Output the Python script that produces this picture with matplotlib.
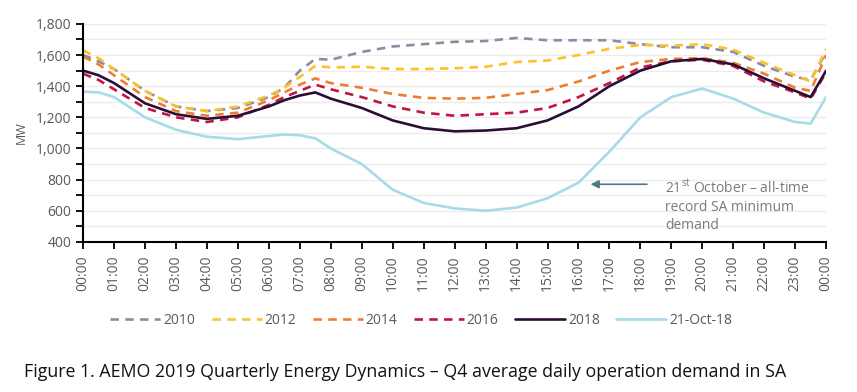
import numpy as np
import matplotlib.pyplot as plt
from matplotlib.ticker import MultipleLocator, FuncFormatter

plt.rcParams['font.family'] = ['Open Sans', 'DejaVu Sans']
plt.rcParams['mathtext.fontset'] = 'custom'
plt.rcParams['mathtext.rm'] = 'Open Sans'

# hours after midnight of each reading
hours = [0, 0.5, 1, 2, 3, 4, 5, 6, 6.5, 7, 7.5, 8, 9, 10, 11, 12,
         13, 14, 15, 16, 17, 18, 19, 20, 21, 22, 23, 23.5, 24]

d2010 = [1600, 1560, 1510, 1370, 1270, 1240, 1260, 1330, 1390, 1500, 1575, 1570,
         1620, 1655, 1670, 1685, 1690, 1710, 1695, 1695, 1695, 1670, 1650, 1650,
         1620, 1530, 1460, 1440, 1620]
d2012 = [1630, 1580, 1510, 1370, 1270, 1240, 1270, 1340, 1390, 1460, 1530, 1520,
         1525, 1510, 1510, 1515, 1525, 1555, 1565, 1600, 1640, 1665, 1660, 1670,
         1635, 1550, 1470, 1430, 1640]
d2014 = [1590, 1540, 1470, 1330, 1240, 1210, 1230, 1310, 1360, 1410, 1450, 1420,
         1390, 1350, 1325, 1320, 1325, 1350, 1375, 1430, 1500, 1555, 1575, 1580,
         1550, 1480, 1390, 1370, 1600]
d2016 = [1480, 1440, 1380, 1260, 1200, 1170, 1200, 1280, 1330, 1370, 1410, 1380,
         1330, 1270, 1230, 1210, 1220, 1230, 1260, 1330, 1420, 1520, 1560, 1570,
         1530, 1430, 1360, 1320, 1490]
d2018 = [1500, 1470, 1420, 1290, 1220, 1190, 1210, 1270, 1310, 1340, 1360, 1320,
         1260, 1180, 1130, 1110, 1115, 1130, 1180, 1270, 1400, 1500, 1560, 1575,
         1540, 1450, 1370, 1330, 1500]
d21oct = [1365, 1360, 1330, 1200, 1120, 1075, 1060, 1080, 1090, 1085, 1065, 1000,
          900, 735, 650, 615, 600, 620, 680, 780, 980, 1200, 1330, 1385,
          1320, 1230, 1170, 1160, 1330]

labels = ['2010', '2012', '2014', '2016', '2018', '21-Oct-18']
colors = ['#8d8ba3', '#f9c32b', '#ee7d32', '#c3143f', '#2a0e38', '#a7dbe7']
series = [d2010, d2012, d2014, d2016, d2018, d21oct]

fig = plt.figure(figsize=(8.57, 3.92), dpi=100)
ax = fig.add_axes([0.097, 0.383, 0.867, 0.556])

for lab, col, vals in zip(labels, colors, series):
    if lab in ('2018', '21-Oct-18'):
        ax.plot(hours, vals, color=col, lw=1.9, label=lab, solid_capstyle='round')
    else:
        ax.plot(hours, vals, color=col, lw=1.9, label=lab, dashes=(3.2, 2.4))

ax.set_xlim(0, 24)
ax.set_ylim(400, 1800)
ax.xaxis.set_major_locator(MultipleLocator(1))
ax.xaxis.set_major_formatter(FuncFormatter(lambda v, p: '%02d:00' % (int(round(v)) % 24)))
ax.yaxis.set_major_locator(MultipleLocator(200))
ax.yaxis.set_minor_locator(MultipleLocator(100))
ax.yaxis.set_major_formatter(FuncFormatter(lambda v, p: '{:,.0f}'.format(v)))
ax.grid(True, which='both', axis='y', color='#ececec', lw=1)
ax.set_axisbelow(True)

for s in ['top', 'right']:
    ax.spines[s].set_visible(False)
for s in ['left', 'bottom']:
    ax.spines[s].set_color('black')
    ax.spines[s].set_linewidth(1.5)

ax.tick_params(axis='x', rotation=90, labelsize=10, labelcolor='#595959',
               length=5, width=1.3, pad=5)
ax.tick_params(axis='y', which='both', labelsize=10, labelcolor='#595959',
               length=5, width=1.3)
ax.set_ylabel('MW', color='#595959', fontsize=9, labelpad=6)

# annotation for the record minimum day
ax.annotate('', xy=(16.3, 770), xytext=(18.3, 770),
            arrowprops=dict(arrowstyle='-|>', color='#4d7a83', lw=1.2,
                            mutation_scale=12))
ax.text(18.8, 630, '21$^{\\mathrm{st}}$ October \u2013 all-time\nrecord SA minimum\ndemand',
        color='#7a7a7a', fontsize=10, va='center', ha='left', linespacing=1.3)

ax.legend(loc='upper center', bbox_to_anchor=(0.455, -0.27), ncol=6, frameon=False,
          fontsize=10, labelcolor='#595959', handlelength=3.6, handletextpad=0.2,
          columnspacing=1.2)

fig.text(0.028, 0.05, 'Figure 1. AEMO 2019 Quarterly Energy Dynamics \u2013 Q4 average daily operation demand in SA',
         fontsize=12.8, color='#111111', ha='left', va='center')

fig.savefig('out.png', dpi=100)
plt.close(fig)
